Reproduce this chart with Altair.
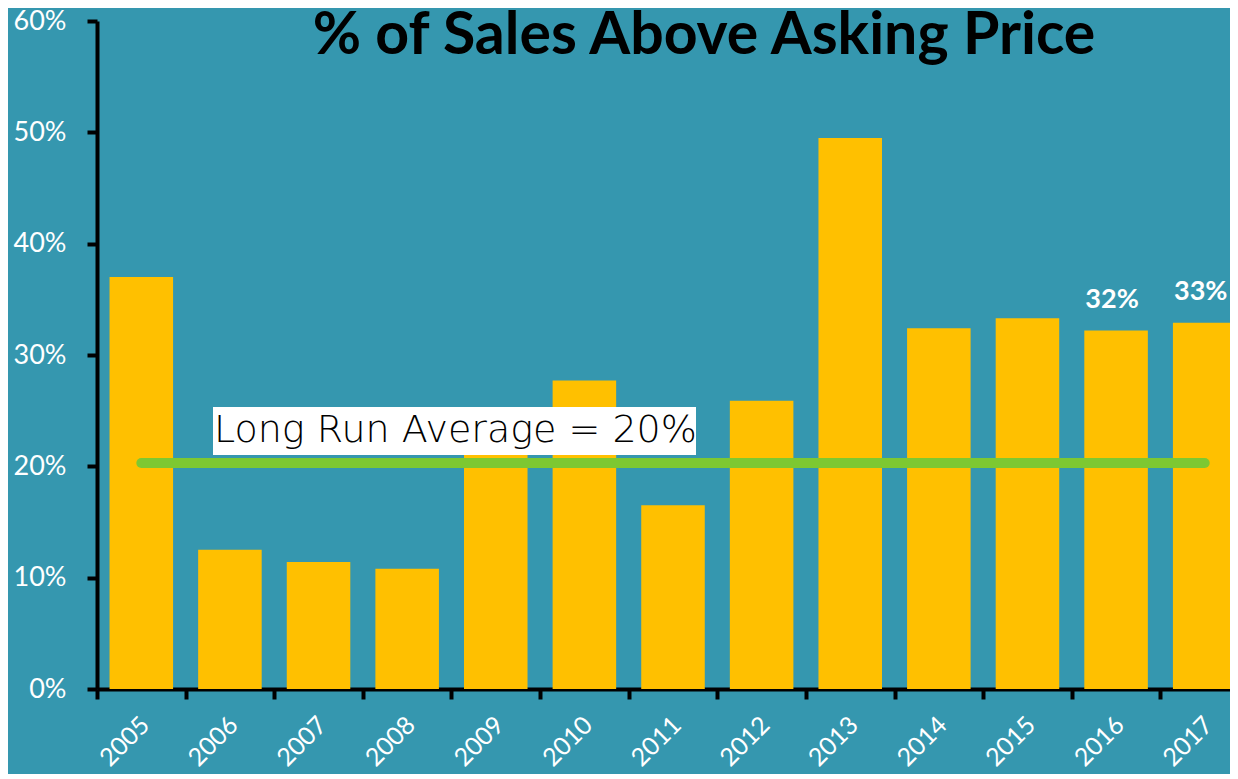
import altair as alt
import pandas as pd

years = ["2005", "2006", "2007", "2008", "2009", "2010", "2011",
         "2012", "2013", "2014", "2015", "2016", "2017"]
share_above_asking = [0.370, 0.125, 0.114, 0.108, 0.220, 0.277, 0.165,
                      0.259, 0.495, 0.324, 0.333, 0.322, 0.329]

label_years = ["2016", "2017"]
label_texts = ["32%", "33%"]

avg_value = 0.203
avg_start, avg_end = "2005", "2017"
avg_text = "Long Run Average = 20%"
title_text = "% of Sales Above Asking Price"

BG = "#3597AF"
BAR = "#FFC000"
GREEN = "#7DC832"

df = pd.DataFrame({"year": years, "share": share_above_asking})
lab_df = df[df["year"].isin(label_years)].copy()
lab_df["text"] = label_texts
avg_df = pd.DataFrame({"start": [avg_start], "end": [avg_end], "avg": [avg_value]})

x_scale = alt.Scale(domain=years, range=[0, 1152], paddingInner=0, paddingOuter=0)
y_scale = alt.Scale(domain=[0, 0.6])

x_axis = alt.Axis(title=None, labelAngle=-45, labelAlign="right", labelBaseline="top",
                  labelColor="white", labelFont="Lato", labelFontSize=25, labelPadding=13,
                  labelOffset=-5,
                  tickBand="extent", tickColor="black", tickWidth=4, tickSize=10,
                  domainColor="black", domainWidth=4, grid=False, labelOverlap=False,
                  labelFlush=False)
y_axis = alt.Axis(title=None, values=[0, 0.1, 0.2, 0.3, 0.4, 0.5, 0.6], format=".0%",
                  labelColor="white", labelFont="Lato", labelFontSize=27, labelPadding=21,
                  tickColor="black", tickWidth=4, tickSize=10,
                  domainColor="black", domainWidth=4, grid=False)

bars = alt.Chart(df).mark_bar(width=alt.RelativeBandSize(0.717), color=BAR).encode(
    x=alt.X("year:N", scale=x_scale, axis=x_axis, sort=years),
    y=alt.Y("share:Q", scale=y_scale, axis=y_axis),
)

avg_rule = alt.Chart(avg_df).mark_rule(strokeWidth=10, strokeCap="round", color=GREEN).encode(
    x=alt.X("start:N", scale=x_scale, sort=years),
    x2="end:N",
    y=alt.Y("avg:Q", scale=y_scale),
)

box = alt.Chart(avg_df).mark_rect(color="white").encode(
    x=alt.value(116), x2=alt.value(599),
    y=alt.datum(0.2102, scale=y_scale), y2=alt.datum(0.2533),
)

avg_label = alt.Chart(avg_df).mark_text(
    text=avg_text, font="DejaVu Sans", fontWeight=200, fontSize=38, color="black",
    align="left", baseline="middle").encode(
    x=alt.value(117),
    y=alt.datum(0.2317, scale=y_scale),
)

value_labels = alt.Chart(lab_df).mark_text(
    font="Lato", fontWeight="bold", fontSize=27, color="white",
    baseline="middle", dy=-31, dx=-4).encode(
    x=alt.X("year:N", scale=x_scale, sort=years),
    y=alt.Y("share:Q", scale=y_scale),
    text="text:N",
)

title = alt.Chart(avg_df).mark_text(
    text=title_text, font="Lato", fontWeight="bold", fontSize=59, color="black",
    align="center", baseline="alphabetic").encode(
    x=alt.value(607), y=alt.value(33),
)

chart = alt.layer(bars, box, avg_rule, avg_label, value_labels, title).properties(
    width=1133, height=668,
    padding={"left": 89, "top": 13, "right": 0, "bottom": 85},
    autosize=alt.AutoSizeParams(type="none"),
    background=BG,
).configure_view(stroke=None)

chart.save("out.html", embed_options={"renderer": "svg", "actions": False})
